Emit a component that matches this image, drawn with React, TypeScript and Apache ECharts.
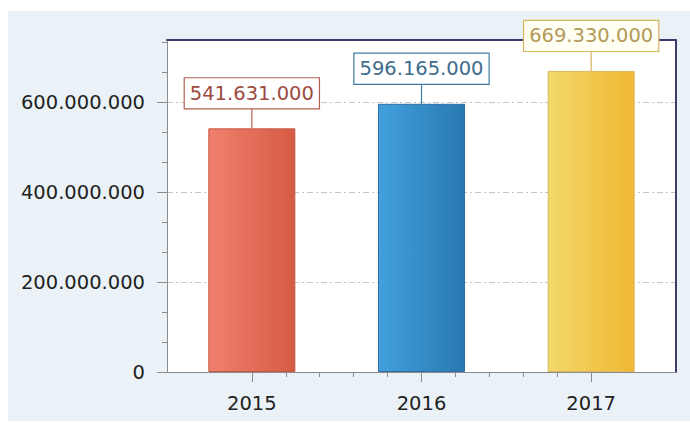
import React, { useEffect, useRef } from "react";
import * as echarts from "echarts";

const categories = ["2015", "2016", "2017"];
const values = [541631000, 596165000, 669330000];
const yTickValues = [0, 200000000, 400000000, 600000000];
const yMax = 738000000;

const barColors = [
  { left: "#EF806D", right: "#D65B44", border: "#C45843", text: "#9C4A3E", box: "#B5604F", bg: "#FFFFFF" },
  { left: "#42A0DC", right: "#2979B1", border: "#2C70A5", text: "#3D6C8D", box: "#3E7DA3", bg: "#FFFFFF" },
  { left: "#F2D86B", right: "#EFB832", border: "#D9B85E", text: "#B39A58", box: "#D4B45E", bg: "#FFFFF4" },
];

function fmt(v: number): string {
  return String(Math.round(v)).replace(/\B(?=(\d{3})+(?!\d))/g, ".");
}

const FONT = "DejaVu Sans";
const GRID_LEFT = 167;
const GRID_WIDTH = 509;
const GRID_TOP = 40;
const GRID_BOTTOM = 51;

export default function App() {
  const ref = useRef<HTMLDivElement>(null);
  useEffect(() => {
    if (!ref.current) return;
    const chart = echarts.init(ref.current, null, { renderer: "svg" });
    const catW = GRID_WIDTH / categories.length;
    const option: any = {
      animation: false,
      backgroundColor: "#FFFFFF",
      graphic: [
        {
          type: "rect",
          z: -100,
          shape: { x: 8, y: 11, width: 682, height: 410 },
          style: { fill: "#EAF2F8" },
          silent: true,
        },
      ],
      grid: [
        { left: GRID_LEFT, width: GRID_WIDTH, top: GRID_TOP, bottom: GRID_BOTTOM, show: true, backgroundColor: "#FFFFFF", borderWidth: 0 },
        { left: GRID_LEFT + catW / 2, width: catW * (categories.length - 1), top: GRID_TOP, bottom: GRID_BOTTOM, show: false },
      ],
      xAxis: [
        {
          type: "category",
          gridIndex: 0,
          data: categories,
          boundaryGap: true,
          axisLine: { show: true, lineStyle: { color: "#8C8C8C", width: 1 } },
          axisTick: { show: true, alignWithLabel: true, length: 10, lineStyle: { color: "#8C8C8C" } },
          axisLabel: { color: "#222222", fontFamily: FONT, fontSize: 19.5, lineHeight: 20, margin: 21 },
          splitLine: { show: false },
        },
        {
          type: "category",
          gridIndex: 0,
          position: "top",
          data: categories,
          axisLine: { show: true, onZero: false, lineStyle: { color: "#3B3B6D", width: 2 } },
          axisTick: { show: false },
          axisLabel: { show: false },
          splitLine: { show: false },
        },
        {
          type: "value",
          gridIndex: 1,
          min: 0,
          max: 10,
          interval: 1,
          axisLine: { show: false },
          axisTick: { show: true, length: 5, lineStyle: { color: "#8C8C8C" } },
          axisLabel: { show: false },
          splitLine: { show: false },
        },
      ],
      yAxis: [
        {
          type: "value",
          gridIndex: 0,
          min: 0,
          max: yMax,
          interval: 200000000,
          axisLine: { show: true, lineStyle: { color: "#8C8C8C", width: 1 } },
          axisTick: { show: true, length: 10, customValues: yTickValues, lineStyle: { color: "#8C8C8C" } },
          minorTick: { show: true, splitNumber: 3, length: 5, lineStyle: { color: "#8C8C8C" } },
          axisLabel: {
            customValues: yTickValues,
            formatter: (v: number) => fmt(v),
            color: "#222222",
            fontFamily: FONT,
            fontSize: 19.5,
            margin: 22,
          },
          splitLine: { show: true, lineStyle: { color: "#C4C4C4", width: 1, type: [6, 3, 2, 3] } },
          minorSplitLine: { show: false },
        },
        {
          type: "value",
          gridIndex: 0,
          position: "right",
          min: 0,
          max: yMax,
          axisLine: { show: true, onZero: false, lineStyle: { color: "#3B3B6D", width: 2 } },
          axisTick: { show: false },
          axisLabel: { show: false },
          splitLine: { show: false },
        },
        { type: "value", gridIndex: 1, show: false, min: 0, max: 1 },
      ],
      series: [
        {
          type: "bar",
          xAxisIndex: 0,
          yAxisIndex: 0,
          barWidth: 87,
          data: values.map((v, i) => ({
            value: v,
            itemStyle: {
              color: new echarts.graphic.LinearGradient(0, 0, 1, 0, [
                { offset: 0, color: barColors[i].left },
                { offset: 1, color: barColors[i].right },
              ]),
              borderColor: barColors[i].border,
              borderWidth: 1,
            },
          })),
        },
        {
          type: "custom",
          xAxisIndex: 0,
          yAxisIndex: 0,
          z: 10,
          clip: false,
          data: values.map((v, i) => [i, v]),
          renderItem: (params: any, api: any) => {
            const i = api.value(0);
            const v = api.value(1);
            const p = api.coord([i, v]);
            const c = barColors[i];
            return {
              type: "group",
              children: [
                {
                  type: "line",
                  shape: { x1: p[0], y1: p[1], x2: p[0], y2: p[1] - 20 },
                  style: { stroke: c.box, lineWidth: 1.2 },
                },
                {
                  type: "text",
                  x: p[0],
                  y: p[1] - 20,
                  style: {
                    text: fmt(v),
                    align: "center",
                    verticalAlign: "bottom",
                    fill: c.text,
                    fontFamily: FONT,
                    fontSize: 19.5,
                    lineHeight: 20,
                    backgroundColor: c.bg,
                    borderColor: c.box,
                    borderWidth: 1.2,
                    padding: [5, 5, 5, 5],
                  },
                },
              ],
            };
          },
        },
      ],
    };
    chart.setOption(option);
    return () => chart.dispose();
  }, []);
  return (
    <div
      ref={ref}
      style={{ position: "absolute", left: 0, top: 0, width: 690, height: 423 }}
    />
  );
}
